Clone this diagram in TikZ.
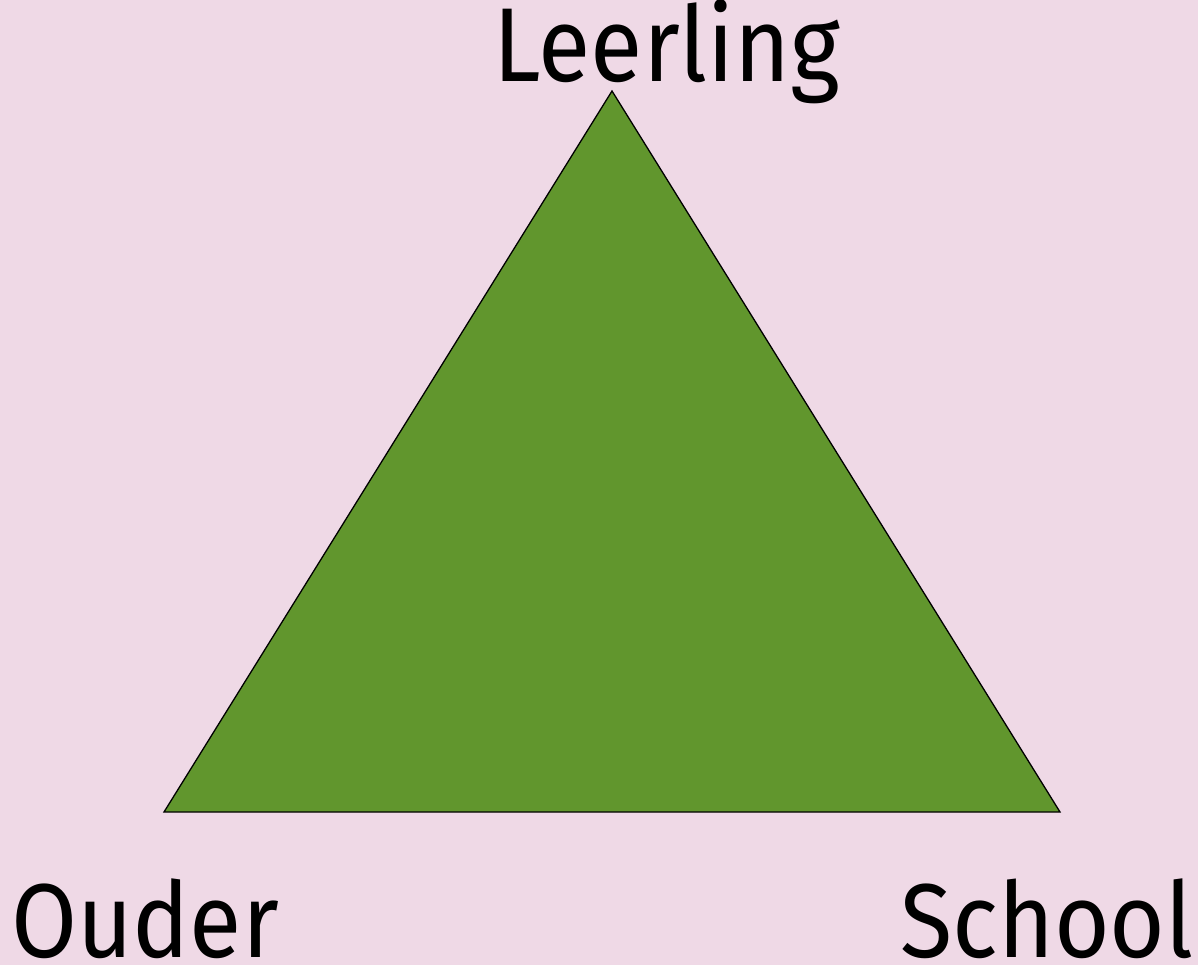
\documentclass[tikz,border=0pt]{standalone}
\usepackage{fontspec}
\setmainfont{Fira Sans}
\definecolor{bg}{HTML}{EFD9E6}
\definecolor{tri}{HTML}{61962D}
\begin{document}
\begin{tikzpicture}[x=1pt,y=-1pt,
  lbl/.style={inner sep=0pt,anchor=base,xscale=0.91,font=\fontsize{105}{105}\selectfont,text=black}]
\fill[bg] (0,0) rectangle (1198,965);
\useasboundingbox (0,0) rectangle (1198,965);
\coordinate (top) at (612,91);
\coordinate (left) at (164,812);
\coordinate (right) at (1060,812);
\filldraw[fill=tri,draw=black,line width=1.3pt,line join=miter] (top) -- (left) -- (right) -- cycle;
\node[lbl] (leerling) at (667,82) {Leerling};
\node[lbl] (ouder) at (145,957) {Ouder};
\node[lbl] (school) at (1047,957) {School};
\end{tikzpicture}
\end{document}
